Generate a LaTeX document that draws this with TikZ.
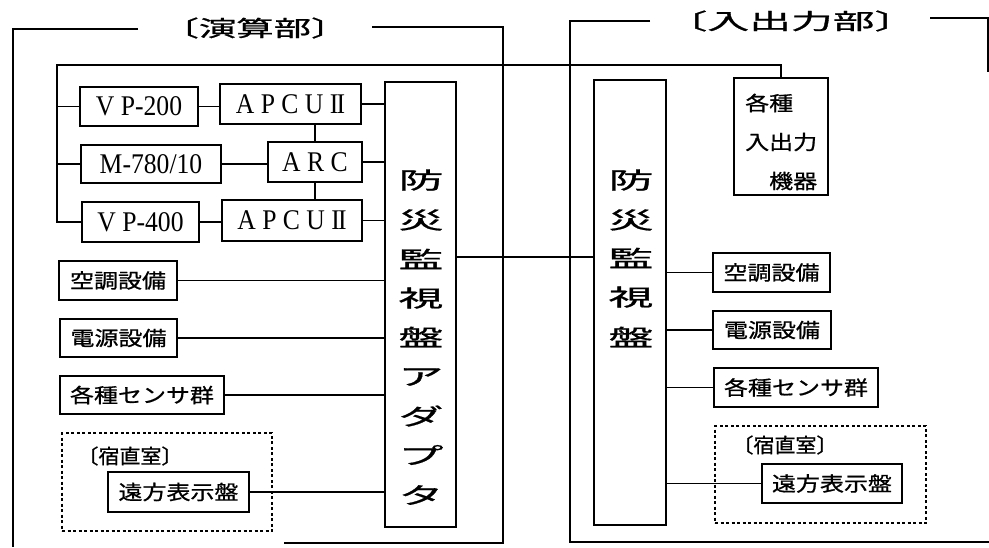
\documentclass[tikz,border=0pt]{standalone}
\usepackage{fontspec}
\usepackage{graphicx}
\setmainfont{Liberation Serif}
\newfontfamily\jp[FakeBold=0.8]{Noto Sans CJK JP}
\newcommand{\jw}[1]{\scalebox{1.2}[1]{#1}}
\newcommand{\lw}[1]{\scalebox{0.9}[1]{#1}}
\newcommand{\RII}{I\kern-0.07em I}
\tikzset{
  frameline/.style={line width=2.6pt},
  box/.style={draw, line width=1.5pt, inner sep=0pt, anchor=center},
  latin/.style={font=\fontsize{28.5}{28.5}\selectfont},
  jbox/.style={font=\jp\fontsize{20}{20}\selectfont},
  conn/.style={line width=1.1pt},
  thickconn/.style={line width=2.4pt},
  dashbox/.style={draw, line width=1.1pt, dash pattern=on 3pt off 2.5pt},
  adapter/.style={draw, line width=2.6pt, inner sep=0pt},
  vchar/.style={font=\jp\fontsize{23}{23}\selectfont, inner sep=0pt},
  title/.style={font=\jp\fontsize{22}{22}\selectfont, inner sep=0pt},
  plain/.style={font=\jp\fontsize{20}{20}\selectfont, inner sep=0pt},
}
\begin{document}
\begin{tikzpicture}[x=1pt,y=-1pt]
\useasboundingbox (0,0) rectangle (989,547);

% frames
\node[title] (titleL) at (255,28) {\scalebox{1.7}[1]{〔演算部〕}};
\node[title] (titleR) at (791,21) {\scalebox{1.9}[1]{〔入出力部〕}};
\draw[frameline] (138,29) -- (13,29) -- (13,547);
\draw[frameline] (372,27) -- (503,27) -- (503,543) -- (284,543);
\draw[frameline] (650,21) -- (570,21) -- (570,542) -- (989,542);
\draw[frameline] (930,18) -- (988,18) -- (988,72);

% left part
\node[box, latin, minimum width=118pt, minimum height=39pt] (vp200) at (139,106.5) {\lw{V P-200}};
\node[box, latin, minimum width=141pt, minimum height=40pt] (apcu1) at (290.5,104) {\lw{A P C U \RII}};
\node[box, latin, minimum width=140pt, minimum height=38pt] (m780) at (151,164) {\lw{M-780/10}};
\node[box, latin, minimum width=94pt, minimum height=40pt] (arc) at (315,162) {\lw{A R C}};
\node[box, latin, minimum width=117pt, minimum height=40pt] (vp400) at (140.5,222) {\lw{V P-400}};
\node[box, latin, minimum width=140pt, minimum height=41pt] (apcu2) at (292,220.5) {\lw{A P C U \RII}};

\node[adapter, minimum width=71pt, minimum height=445pt] (adL) at (420.5,304.5) {};
\foreach \c/\yy [count=\i] in {防/180,災/220,監/259,視/298,盤/337,ア/377,ダ/416,プ/455,タ/495}
  \node[vchar] (adL-\i) at (421,\yy) {\scalebox{1.95}[1]{\c}};

\node[box, jbox, minimum width=118pt, minimum height=39pt] (kuchoL) at (118,280.5) {\jw{空調設備}};
\node[box, jbox, minimum width=117pt, minimum height=38pt] (dengenL) at (118.5,338) {\jw{電源設備}};
\node[box, jbox, minimum width=164pt, minimum height=38pt] (sensorL) at (142,395) {\jw{各種センサ群}};
\node[dashbox, minimum width=210pt, minimum height=98pt, inner sep=0pt] (dashL) at (167,482) {};
\node[plain] (shukuL) at (130,456) {\scalebox{1.05}[1]{〔宿直室〕}};
\node[box, jbox, minimum width=141pt, minimum height=40pt] (enpoL) at (178.5,492) {\jw{遠方表示盤}};

% right part
\node[adapter, minimum width=72pt, minimum height=445pt] (adR) at (630,302.5) {};
\foreach \c/\yy [count=\i] in {防/180,災/220,監/258,視/297,盤/337}
  \node[vchar] (adR-\i) at (631,\yy) {\scalebox{1.95}[1]{\c}};

\node[box, minimum width=94pt, minimum height=117pt] (ioR) at (781,136.5) {};
\node[plain, anchor=west] (io1) at (745,103) {\jw{各種}};
\node[plain, anchor=west] (io2) at (745,142) {\jw{入出力}};
\node[plain, anchor=west] (io3) at (769,181) {\jw{機器}};

\node[box, jbox, minimum width=117pt, minimum height=39pt] (kuchoR) at (771.5,272.5) {\jw{空調設備}};
\node[box, jbox, minimum width=118pt, minimum height=38pt] (dengenR) at (772,330) {\jw{電源設備}};
\node[box, jbox, minimum width=164pt, minimum height=39pt] (sensorR) at (796,387.5) {\jw{各種センサ群}};
\node[dashbox, minimum width=211pt, minimum height=97pt, inner sep=0pt] (dashR) at (820.5,474.5) {};
\node[plain] (shukuR) at (785,445) {\scalebox{1.05}[1]{〔宿直室〕}};
\node[box, jbox, minimum width=140pt, minimum height=39pt] (enpoR) at (832,483.5) {\jw{遠方表示盤}};

% bus
\coordinate (busTL) at (57,65);
\draw[conn] (vp400.west) -| (busTL) -| (ioR.north);
\draw[conn] (vp200.west) -- (vp200.west -| busTL);
\draw[conn] (m780.west) -- (m780.west -| busTL);

% left connectors
\draw[conn] (vp200.east) -- (vp200.east -| apcu1.west);
\draw[conn] (m780.east) -- (m780.east -| arc.west);
\draw[conn] (vp400.east) -- (vp400.east -| apcu2.west);
\draw[conn] (arc.north) -- (arc.north |- apcu1.south);
\draw[conn] (arc.south) -- (arc.south |- apcu2.north);
\draw[conn] (apcu1.east) -- (apcu1.east -| adL.west);
\draw[conn] (arc.east) -- (arc.east -| adL.west);
\draw[conn] (apcu2.east) -- (apcu2.east -| adL.west);
\draw[conn] (kuchoL.east) -- (kuchoL.east -| adL.west);
\draw[conn] (dengenL.east) -- (dengenL.east -| adL.west);
\draw[conn] (sensorL.east) -- (sensorL.east -| adL.west);
\draw[conn] (enpoL.east) -- (enpoL.east -| adL.west);

% link between adapters
\coordinate (linkY) at (0,257);
\draw[thickconn] (adL.east |- linkY) -- (adR.west |- linkY);

% right connectors
\draw[conn] (kuchoR.west -| adR.east) -- (kuchoR.west);
\draw[conn] (dengenR.west -| adR.east) -- (dengenR.west);
\draw[conn] (sensorR.west -| adR.east) -- (sensorR.west);
\draw[conn] (enpoR.west -| adR.east) -- (enpoR.west);
\end{tikzpicture}
\end{document}
